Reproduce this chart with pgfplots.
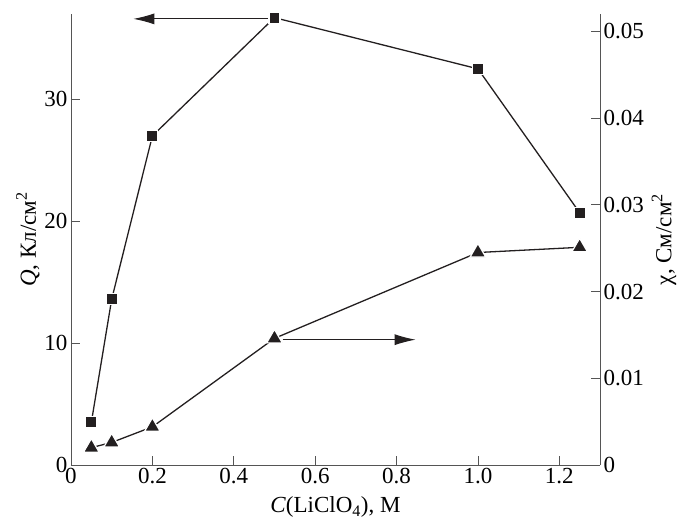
\documentclass[border=0pt]{standalone}
\usepackage{fontspec}
\setmainfont{Liberation Serif}
\usepackage{pgfplots}
\pgfplotsset{compat=1.18}
\usetikzlibrary{arrows.meta}
\definecolor{ink}{HTML}{231F20}
\definecolor{axc}{HTML}{555555}
\begin{document}
\begin{tikzpicture}[font=\fontsize{23}{26}\selectfont]
\pgfplotsset{
  base/.style={
    scale only axis, width=529pt, height=451pt,
    xmin=0, xmax=1.3,
    tick align=inside, major tick length=9pt,
    tick style={axc, line width=0.8pt},
    axis line style={axc, line width=0.9pt},
    /pgf/number format/assume math mode=true,
    scaled ticks=false,
    clip=false,
  }
}
\begin{axis}[base,
  axis x line*=bottom, axis y line*=left,
  ymin=0, ymax=37,
  xtick={0,0.2,0.4,0.6,0.8,1.0,1.2},
  xticklabels={0,0.2,0.4,0.6,0.8,1.0,1.2},
  ytick={0,10,20,30},
  yticklabels={0,10,20,30},
  xlabel={\textit{C}(LiClO\textsubscript{4}), M},
  ylabel={\textit{Q}, Кл/см\textsuperscript{2}},
  xlabel style={yshift=-6pt},
  ylabel style={yshift=-2pt},
]
\coordinate (bl) at (rel axis cs:0,0);
\coordinate (tr) at (rel axis cs:1,1);
\addplot[ink, line width=1.3pt, mark=square*, mark size=5.5pt,
  mark options={fill=ink, draw=white, line width=1.2pt}]
  coordinates {(0.05,3.5) (0.1,13.6) (0.2,27.0) (0.5,36.7) (1.0,32.5) (1.25,20.7)};
\draw[ink, line width=1pt, -{Latex[length=21pt,width=11pt]}] (axis cs:0.486,36.6) -- (axis cs:0.153,36.6);
\end{axis}
\begin{axis}[base,
  axis x line=none, axis y line*=right,
  ymin=0, ymax=0.052,
  ytick={0,0.01,0.02,0.03,0.04,0.05},
  yticklabels={0,0.01,0.02,0.03,0.04,0.05},
  ylabel={χ, См/см\textsuperscript{2}},
  ylabel style={yshift=-1pt},
]
\addplot[ink, line width=1.3pt, mark=triangle*, mark size=9pt,
  mark options={fill=ink, draw=white, line width=1.2pt}]
  coordinates {(0.05,0.0020) (0.1,0.0026) (0.2,0.0044) (0.5,0.0146) (1.0,0.0245) (1.25,0.0251)};
\draw[ink, line width=1pt, -{Latex[length=21pt,width=11pt]}] (axis cs:0.52,0.01445) -- (axis cs:0.847,0.01445);
\end{axis}
\pgfresetboundingbox
\path (bl) ++(-71pt,-58pt) coordinate (p1);
\path (tr) ++(89pt,14pt) coordinate (p2);
\path[use as bounding box] (p1) rectangle (p2);
\end{tikzpicture}
\end{document}
